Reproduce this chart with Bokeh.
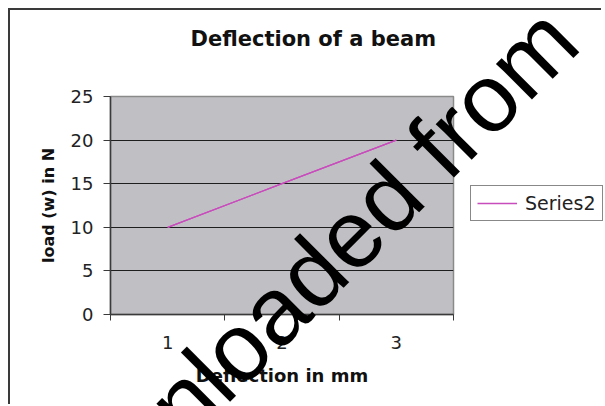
from bokeh.plotting import figure
from bokeh.models import (Range1d, FixedTicker, Legend, LegendItem, Label,
                          ColumnDataSource)
from bokeh.embed import file_html
from bokeh.resources import INLINE

# ---- data ----
categories = [1, 2, 3]
series2 = [10, 15, 20]
y_ticks = [0, 5, 10, 15, 20, 25]
x_tick_labels = {1: "1", 2: "2", 3: "3"}
title_text = "Deflection of a beam"
x_label = "Deflection in mm"
y_label = "load (w) in N"
series_name = "Series2"
watermark = "Downloaded from"

# ---- layout constants (pixels) ----
W, H = 593, 396
MB_L, MB_R, MB_T, MB_B = 100, 150, 86, 92
X0, X1 = 0.5, 3.5
Y0, Y1 = 0, 25
LINE_COLOR = "#c84cbc"

src = ColumnDataSource(data=dict(x=categories, y=series2))

p = figure(width=W, height=H, output_backend="svg", toolbar_location=None,
           x_range=Range1d(X0, X1), y_range=Range1d(Y0, Y1),
           min_border_left=MB_L, min_border_right=MB_R,
           min_border_top=MB_T, min_border_bottom=MB_B,
           background_fill_color="#c0c0c4", border_fill_color="white",
           styles={"margin-left": "8px", "margin-top": "8px",
                   "border-top": "2px solid #3a3a3a",
                   "border-left": "2px solid #3a3a3a"})

p.outline_line_color = "#8a8a8a"
p.outline_line_width = 1.5

# grid
p.xgrid.visible = False
p.ygrid.ticker = FixedTicker(ticks=y_ticks[1:-1])
p.ygrid.grid_line_color = "#1e1e1e"
p.ygrid.grid_line_width = 1.2

# y axis
ya = p.yaxis[0]
ya.ticker = FixedTicker(ticks=y_ticks)
ya.axis_line_color = "#3a3a3a"
ya.axis_line_width = 1.5
ya.major_tick_line_color = "#3a3a3a"
ya.major_tick_out = 7
ya.major_tick_in = 0
ya.minor_tick_line_color = None
ya.major_label_standoff = 10
ya.major_label_text_font = "DejaVu Sans"
ya.major_label_text_font_size = "18px"
ya.major_label_text_color = "#222222"
ya.axis_label = y_label
ya.axis_label_text_font = "DejaVu Sans"
ya.axis_label_text_font_style = "bold"
ya.axis_label_text_font_size = "16px"
ya.axis_label_text_color = "#111111"
ya.axis_label_standoff = 10

# x axis
xa = p.xaxis[0]
xa.ticker = FixedTicker(ticks=categories, minor_ticks=[0.5, 1.5, 2.5, 3.5])
xa.major_label_overrides = x_tick_labels
xa.axis_line_color = "#3a3a3a"
xa.axis_line_width = 1.5
xa.major_tick_line_color = None
xa.major_tick_out = 0
xa.major_tick_in = 0
xa.minor_tick_line_color = "#3a3a3a"
xa.minor_tick_out = 6
xa.minor_tick_in = 0
xa.major_label_standoff = 15
xa.major_label_text_font = "DejaVu Sans"
xa.major_label_text_font_size = "18px"
xa.major_label_text_color = "#222222"
xa.axis_label = x_label
xa.axis_label_text_font = "DejaVu Sans"
xa.axis_label_text_font_style = "bold"
xa.axis_label_text_font_size = "18px"
xa.axis_label_text_color = "#111111"
xa.axis_label_standoff = 13

# series
r = p.line("x", "y", source=src, line_color=LINE_COLOR, line_width=1.3)

# ---- transparent overlay (same data space, frame = whole canvas) ----
fw = W - MB_L - MB_R
fh = H - MB_T - MB_B
ux = fw / (X1 - X0)
uy = fh / (Y1 - Y0)
q = figure(width=W, height=H, output_backend="svg", toolbar_location=None,
           x_range=Range1d(X0 - MB_L / ux, X1 + MB_R / ux),
           y_range=Range1d(Y0 - MB_B / uy, Y1 + MB_T / uy),
           x_axis_type=None, y_axis_type=None,
           min_border=0, outline_line_color=None,
           background_fill_color=None, border_fill_color=None,
           styles={"position": "absolute", "left": "10px", "top": "10px"})
q.grid.visible = False

# chart title
title_lbl = Label(x=180, y=368, x_units="screen", y_units="screen",
                  text=title_text, text_font="DejaVu Sans",
                  text_font_style="bold", text_font_size="21px",
                  text_color="#111111", text_align="left",
                  text_baseline="alphabetic")
q.add_layout(title_lbl)

# legend; its key is the same series drawn in the overlay (same place)
key = q.line("x", "y", source=src, line_color=LINE_COLOR, line_width=1.3)
legend = Legend(items=[LegendItem(label=series_name, renderers=[key])],
                location=(460, 185), orientation="vertical",
                border_line_color="#111111", border_line_width=1,
                background_fill_color="white", background_fill_alpha=1.0,
                padding=6, margin=0, spacing=0,
                glyph_width=40, label_standoff=8,
                label_text_font="DejaVu Sans", label_text_font_size="19px",
                label_text_color="#222222")
q.add_layout(legend, "center")

# watermark text over the whole chart
wm = Label(x=-0.22, y=-27.7, text=watermark,
           angle=45, angle_units="deg", text_font="Liberation Sans",
           text_font_size="96px", text_color="black",
           text_align="left", text_baseline="alphabetic")
q.add_layout(wm)

open("out.html", "w").write(file_html([p, q], INLINE))
